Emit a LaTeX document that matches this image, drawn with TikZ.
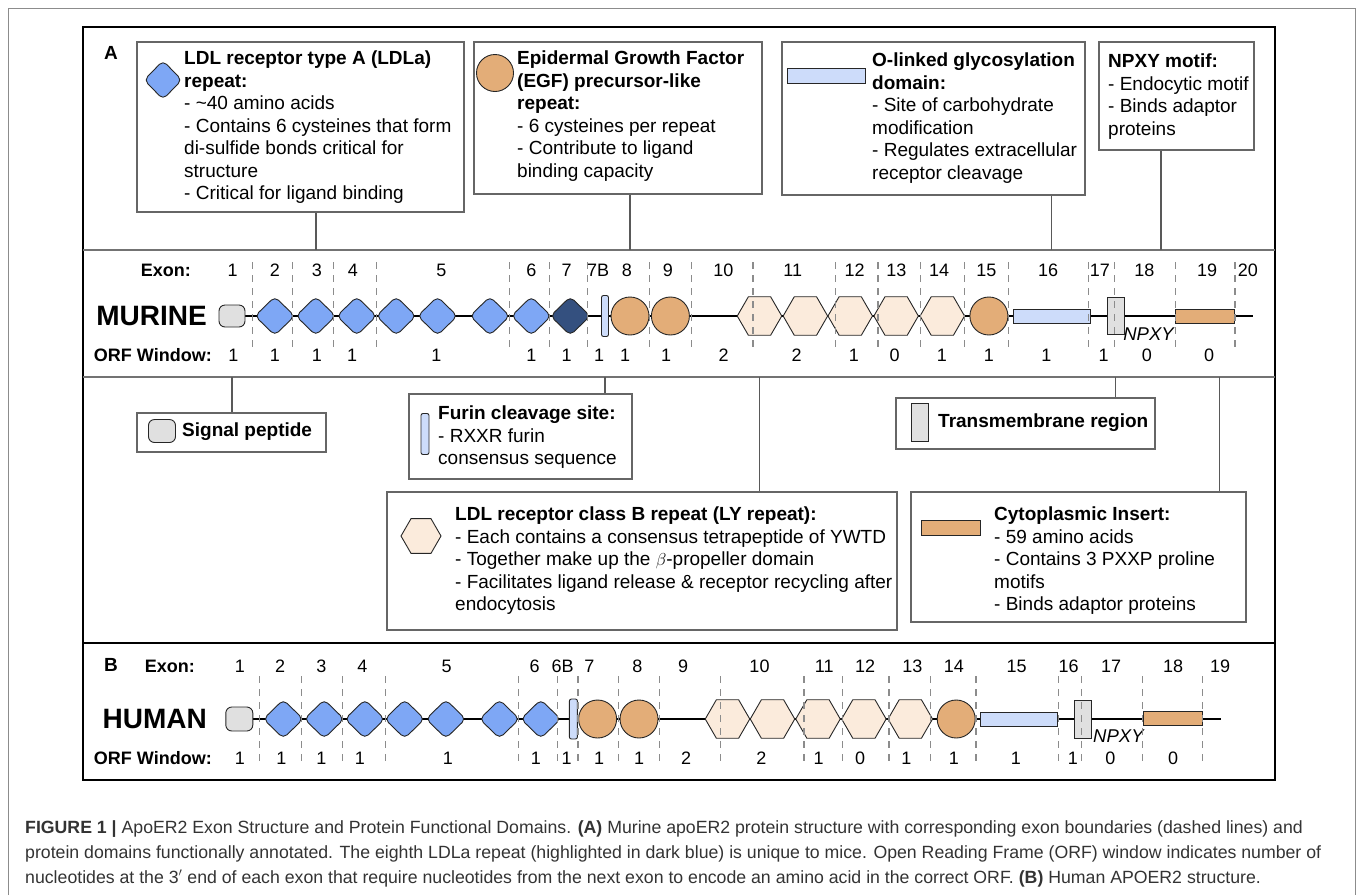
\documentclass[tikz,border=0pt]{standalone}
\usepackage{fontspec}
\setmainfont{Liberation Sans}
\usepackage{xcolor}
\usetikzlibrary{shapes.geometric}
\definecolor{ldlblue}{HTML}{7EA7F5}
\definecolor{ldldark}{HTML}{34507F}
\definecolor{egforange}{HTML}{E3AD78}
\definecolor{lycream}{HTML}{FBEBDC}
\definecolor{glyblue}{HTML}{CDDCFA}
\definecolor{tmgray}{HTML}{E0E0E0}
\definecolor{boxline}{HTML}{666666}
\definecolor{capgray}{HTML}{333333}

\begin{document}
\begin{tikzpicture}[x=1pt,y=-1pt,
  part/.style={draw=black!85,line width=0.9pt,inner sep=0pt},
  ldla/.style={part,diamond,fill=ldlblue,minimum width=40pt,minimum height=39pt,rounded corners=5pt},
  egf/.style={part,circle,fill=egforange,minimum size=38pt},
  lyrep/.style={part,regular polygon,regular polygon sides=6,fill=lycream,minimum size=44.5pt},
  sigpep/.style={part,rectangle,fill=tmgray,rounded corners=6pt,minimum width=26pt,minimum height=22pt},
  furin/.style={part,rectangle,fill=glyblue,rounded corners=2pt,minimum width=7pt,minimum height=41pt},
  glyco/.style={part,rectangle,fill=glyblue,minimum width=77pt,minimum height=14pt},
  tmreg/.style={part,rectangle,fill=tmgray,minimum width=17pt,minimum height=37pt},
  cyto/.style={part,rectangle,fill=egforange,minimum width=59pt,minimum height=14pt},
  backbone/.style={line width=1.8pt},
  exonsep/.style={draw=black!45,line width=1.2pt,dash pattern=on 7pt off 6pt},
  numlbl/.style={inner sep=0pt,font=\fontsize{18}{20}\selectfont},
  rowlbl/.style={inner sep=0pt,anchor=east,font=\fontsize{18}{20}\selectfont\bfseries},
  species/.style={inner sep=0pt,anchor=east,font=\fontsize{28}{30}\selectfont\bfseries},
  npxylbl/.style={inner sep=0pt,font=\fontsize{18.5}{20}\selectfont\itshape},
  infobox/.style={draw=boxline,line width=1.8pt,anchor=north west,inner sep=0pt},
  boxtext/.style={anchor=north west,align=left,inner sep=0pt,font=\fontsize{19}{22.5}\selectfont},
  link/.style={draw=black!65,line width=1.6pt},
  frame/.style={line width=2.5pt},
  sep/.style={draw=black!55,line width=1.8pt},
  caption/.style={anchor=base west,inner sep=0pt,text=capgray,font=\fontsize{17.7}{25}\selectfont}]
\useasboundingbox (0,0) rectangle (1357,895);
\draw[black!45,line width=1pt] (8,895) -- (8,8) -- (1355,8) -- (1355,895);
\draw[frame] (83,27) rectangle (1275,780);
\draw[frame] (83,643) -- (1275,643);
\draw[sep] (83,250) -- (1275,250);
\draw[sep] (83,377) -- (1275,377);
\coordinate (sepA) at (0,250);
\coordinate (sepB) at (0,377);
\node[inner sep=0pt,font=\fontsize{19}{20}\selectfont\bfseries] (lblA) at (111,53) {A};
\node[inner sep=0pt,font=\fontsize{19}{20}\selectfont\bfseries] (lblB) at (111,665) {B};

\node[infobox,minimum width=327pt,minimum height=170pt] (ldlabox) at (136,41) {};
\node[ldla,minimum width=38pt,minimum height=39pt] (ldlaicon) at (163,80) {};
\node[boxtext] (ldlatext) at (184,51) {\textbf{LDL receptor type A (LDLa)}\\\textbf{repeat:}\\- \textasciitilde40 amino acids\\- Contains 6 cysteines that form\\di-sulfide bonds critical for\\structure\\- Critical for ligand binding};
\node[infobox,minimum width=288pt,minimum height=152pt] (egfbox) at (473,41) {};
\node[egf,minimum size=37pt] (egficon) at (495,73) {};
\node[boxtext] (egftext) at (517,51) {\textbf{Epidermal Growth Factor}\\\textbf{(EGF) precursor-like}\\\textbf{repeat:}\\- 6 cysteines per repeat\\- Contribute to ligand\\binding capacity};
\node[infobox,minimum width=303pt,minimum height=153pt] (glycobox) at (781,41) {};
\node[glyco,minimum width=78pt,minimum height=15pt] (glycoicon) at (826,76) {};
\node[boxtext] (glycotext) at (872,53) {\textbf{O-linked glycosylation}\\\textbf{domain:}\\- Site of carbohydrate\\modification\\- Regulates extracellular\\receptor cleavage};
\node[infobox,minimum width=155pt,minimum height=108pt] (npxybox) at (1098,41) {};
\node[boxtext] (npxytext) at (1108,54) {\textbf{NPXY motif:}\\- Endocytic motif\\- Binds adaptor\\proteins};

\node[infobox,minimum width=189pt,minimum height=39pt] (sigbox) at (136,412) {};
\node[sigpep,minimum width=27pt,minimum height=23pt] (sigicon) at (162,431) {};
\node[inner sep=0pt,anchor=west,font=\fontsize{19}{22.5}\selectfont\bfseries] (sigtext) at (182,432) {Signal peptide};
\node[infobox,minimum width=223pt,minimum height=85pt] (furinbox) at (408,393) {};
\node[furin,minimum width=8pt] (furinicon) at (425,434) {};
\node[boxtext] (furintext) at (438,406) {\textbf{Furin cleavage site:}\\- RXXR furin\\consensus sequence};
\node[infobox,minimum width=510pt,minimum height=138pt] (lybox) at (386,491) {};
\node[lyrep,minimum size=40pt] (lyicon) at (421,536) {};
\node[boxtext] (lytext) at (455,507) {\textbf{LDL receptor class B repeat (LY repeat):}\\- Each contains a consensus tetrapeptide of YWTD\\- Together make up the $\beta$-propeller domain\\- Facilitates ligand release \& receptor recycling after\\endocytosis};
\node[infobox,minimum width=259pt,minimum height=51pt] (tmbox) at (895,397) {};
\node[tmreg,minimum height=38pt] (tmicon) at (920,422) {};
\node[inner sep=0pt,anchor=west,font=\fontsize{19}{22.5}\selectfont\bfseries] (tmtext) at (938,423) {Transmembrane region};
\node[infobox,minimum width=335pt,minimum height=130pt] (cytobox) at (910,491) {};
\node[cyto,minimum width=59pt,minimum height=15pt] (cytoicon) at (951,528) {};
\node[boxtext] (cytotext) at (994,507) {\textbf{Cytoplasmic Insert:}\\- 59 amino acids\\- Contains 3 PXXP proline\\motifs\\- Binds adaptor proteins};

\node[rowlbl] (mexon) at (191,270) {Exon:};
\node[species] (mname) at (207,316) {MURINE};
\node[rowlbl] (morf) at (212,355) {ORF Window:};
\coordinate (mstart) at (232,316);
\coordinate (mend) at (1253,316);
\draw[backbone] (mstart) -- (mend);
\node[sigpep] (msig) at (232,316) {};
\foreach \x [count=\i] in {274.8,315.8,356.7,396.2,437.5,489.9,531.3}
  \node[ldla] (mldl\i) at (\x,316) {};
\node[ldla,fill=ldldark] (mldl8) at (570.3,316) {};
\node[furin] (mfurin) at (605,316) {};
\node[egf] (megf1) at (630,316) {};
\node[egf] (megf2) at (670.4,316) {};
\foreach \x [count=\i] in {759.5,805.4,850.2,896.1,942.3}
  \node[lyrep] (mly\i) at (\x,316) {};
\node[egf] (megf3) at (988.9,316) {};
\node[glyco] (mglyco) at (1051.5,316) {};
\node[tmreg] (mtm) at (1115.6,315.5) {};
\node[npxylbl] (mnpxy) at (1148.5,334) {NPXY};
\node[cyto] (mcyto) at (1205.3,316) {};
\foreach \x in {252.6,292.1,333.8,376.3,509.8,549.2,587.5,649.5,691.1,752.9,835.4,877.9,920.5,964.1,1008.5,1088.1,1114.7,1175.7,1234.9}
  \draw[exonsep] (\x,262) -- (\x,350);
\foreach \x/\t in {232.7/1,274.8/2,317/3,352.9/4,441.3/5,531.3/6,566.5/7,598.2/7B,626.9/8,667.9/9,723.3/10,792.8/11,854.6/12,896.4/13,939/14,986.3/15,1048.1/16,1099.9/17,1144.3/18,1207.2/19,1247.9/20}
  \node[numlbl] (mex\t) at (\x,270) {\t};
\foreach \x/\t [count=\i] in {233.5/1,274.8/1,317/1,352.2/1,436.3/1,531.3/1,566.5/1,599/1,625/1,666/1,723.7/2,796.5/2,853.9/1,894.6/0,941.9/1,988.9/1,1046.3/1,1103.6/1,1146.9/0,1209/0}
  \node[numlbl] (morf\i) at (\x,355) {\t};

\draw[link] (mldl2 |- ldlabox.south) -- (mldl2 |- sepA);
\draw[link] (megf1 |- egfbox.south) -- (megf1 |- sepA);
\draw[link] (mglyco |- glycobox.south) -- (mglyco |- sepA);
\coordinate (npxyx) at (1161,0);
\draw[link] (npxyx |- npxybox.south) -- (npxyx |- sepA);
\draw[link] (msig |- sepB) -- (msig |- sigbox.north);
\draw[link] (mfurin |- sepB) -- (mfurin |- furinbox.north);
\draw[link] (mly1 |- sepB) -- (mly1 |- lybox.north);
\draw[link] (mtm |- sepB) -- (mtm |- tmbox.north);
\coordinate (cytox) at (1219.4,0);
\draw[link] (cytox |- sepB) -- (cytox |- cytobox.north);

\node[rowlbl] (hexon) at (195,666.7) {Exon:};
\node[species] (hname) at (207,719) {HUMAN};
\node[rowlbl] (horf) at (212,758.3) {ORF Window:};
\coordinate (hstart) at (239,719);
\coordinate (hend) at (1221,719);
\draw[backbone] (hstart) -- (hend);
\node[sigpep,minimum width=27pt,minimum height=24pt] (hsig) at (239.3,719) {};
\foreach \x [count=\i] in {283.3,324.2,364.8,404.6,445.9,499.5,540.8}
  \node[ldla] (hldl\i) at (\x,719) {};
\node[furin,minimum width=8pt,minimum height=40pt] (hfurin) at (573.4,719) {};
\node[egf] (hegf1) at (597.6,719) {};
\node[egf] (hegf2) at (639,719) {};
\foreach \x [count=\i] in {727.5,772.5,818,863.9,910.3}
  \node[lyrep] (hly\i) at (\x,719) {};
\node[egf] (hegf3) at (956.2,719) {};
\node[glyco] (hglyco) at (1018.9,719.5) {};
\node[tmreg,minimum height=38pt] (htm) at (1082.7,719) {};
\node[npxylbl] (hnpxy) at (1118.4,735.7) {NPXY};
\node[cyto] (hcyto) at (1173,718.5) {};
\foreach \x in {259.5,301.6,342.6,385.4,518.6,557.7,577.9,618.1,659.5,720.7,803.9,842.8,889,930.8,976,1058.1,1081.4,1142.5,1202.8}
  \draw[exonsep] (\x,676) -- (\x,765);
\foreach \x/\t in {240/1,280.2/2,321.5/3,362.5/4,446.7/5,534.7/6,562.6/6B,589.4/7,637.3/8,683/9,759.5/10,824.3/11,865/12,912.3/13,953.8/14,1016.7/15,1068.5/16,1111/17,1173.2/18,1220.1/19}
  \node[numlbl] (hex\t) at (\x,666.7) {\t};
\foreach \x/\t [count=\i] in {240/1,281.3/1,321.5/1,359.8/1,447.8/1,535.8/1,566.5/1,599/1,639.2/1,686/2,761.4/2,818.7/1,860.2/0,906.4/1,953.8/1,1015.9/1,1072.9/1,1110.3/0,1173.2/0}
  \node[numlbl] (horf\i) at (\x,758.3) {\t};

\node[caption] (cap1) at (25,833) {\textbf{FIGURE 1 |} ApoER2 Exon Structure and Protein Functional Domains. \textbf{(A)} Murine apoER2 protein structure with corresponding exon boundaries (dashed lines) and};
\node[caption] (cap2) at (25,858) {protein domains functionally annotated. The eighth LDLa repeat (highlighted in dark blue) is unique to mice. Open Reading Frame (ORF) window indicates number of};
\node[caption] (cap3) at (25,883) {nucleotides at the 3$'$ end of each exon that require nucleotides from the next exon to encode an amino acid in the correct ORF. \textbf{(B)} Human APOER2 structure.};
\end{tikzpicture}
\end{document}
